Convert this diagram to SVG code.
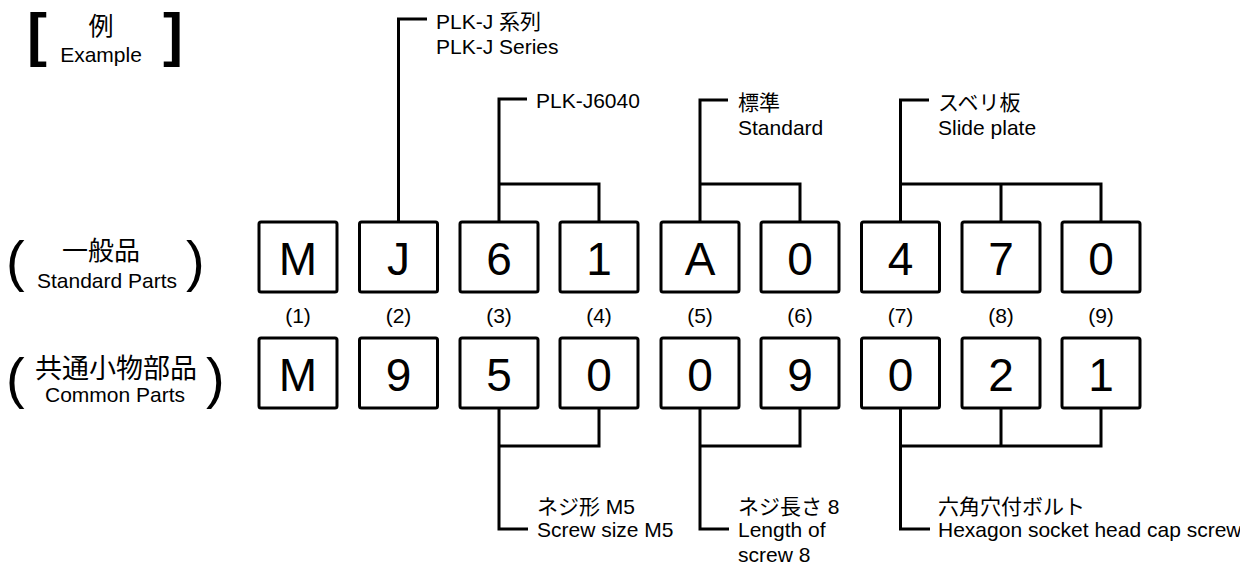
<svg xmlns="http://www.w3.org/2000/svg" width="1240" height="565" viewBox="0 0 1240 565">
<style>
.t{font-family:"Liberation Sans","Noto Sans CJK JP",sans-serif;font-size:21px;fill:#000}
.j{font-family:"Liberation Sans","Noto Sans CJK JP",sans-serif;fill:#000}
.d{font-family:"Liberation Sans",sans-serif;font-size:46px;fill:#000;text-anchor:middle}
.n{font-family:"Liberation Sans",sans-serif;font-size:21px;fill:#000;text-anchor:middle}
.m{text-anchor:middle}
.b{fill:#fff;stroke:#000;stroke-width:3}
.c{fill:none;stroke:#000;stroke-width:3}
</style>
<rect width="1240" height="565" fill="#fff"/>
<g id="title">
<text class="j" x="27" y="55" font-size="60" font-weight="bold">[</text>
<text class="j" x="163" y="55" font-size="60" font-weight="bold">]</text>
<text class="j m" x="101" y="35" font-size="25">例</text>
<text class="t m" x="101" y="62">Example</text>
</g>
<g id="row-label-standard">
<text class="j" x="6" y="280" font-size="56">(</text>
<text class="j" x="186" y="280" font-size="56">)</text>
<text class="j m" x="101" y="260" font-size="26">一般品</text>
<text class="t m" x="107" y="288">Standard Parts</text>
</g>
<g id="row-label-common">
<text class="j" x="6" y="397" font-size="56">(</text>
<text class="j" x="206" y="397" font-size="56">)</text>
<text class="j m" x="116" y="378" font-size="27">共通小物部品</text>
<text class="t m" x="115" y="402">Common Parts</text>
</g>
<g id="standard-row">
<g id="s1"><rect class="b" x="259" y="222" width="78" height="70" rx="2"/><text class="d" x="298" y="275">M</text></g>
<g id="s2"><rect class="b" x="359.5" y="222" width="78" height="70" rx="2"/><text class="d" x="398.5" y="275">J</text></g>
<g id="s3"><rect class="b" x="460" y="222" width="78" height="70" rx="2"/><text class="d" x="499" y="275">6</text></g>
<g id="s4"><rect class="b" x="560" y="222" width="78" height="70" rx="2"/><text class="d" x="599" y="275">1</text></g>
<g id="s5"><rect class="b" x="661" y="222" width="78" height="70" rx="2"/><text class="d" x="700" y="275">A</text></g>
<g id="s6"><rect class="b" x="761" y="222" width="78" height="70" rx="2"/><text class="d" x="800" y="275">0</text></g>
<g id="s7"><rect class="b" x="861.5" y="222" width="78" height="70" rx="2"/><text class="d" x="900.5" y="275">4</text></g>
<g id="s8"><rect class="b" x="962" y="222" width="78" height="70" rx="2"/><text class="d" x="1001" y="275">7</text></g>
<g id="s9"><rect class="b" x="1062" y="222" width="78" height="70" rx="2"/><text class="d" x="1101" y="275">0</text></g>
</g>
<g id="indices">
<text class="n" x="298" y="323">(1)</text>
<text class="n" x="398.5" y="323">(2)</text>
<text class="n" x="499" y="323">(3)</text>
<text class="n" x="599" y="323">(4)</text>
<text class="n" x="700" y="323">(5)</text>
<text class="n" x="800" y="323">(6)</text>
<text class="n" x="900.5" y="323">(7)</text>
<text class="n" x="1001" y="323">(8)</text>
<text class="n" x="1101" y="323">(9)</text>
</g>
<g id="common-row">
<g id="c1"><rect class="b" x="259" y="338" width="78" height="70" rx="2"/><text class="d" x="298" y="391">M</text></g>
<g id="c2"><rect class="b" x="359.5" y="338" width="78" height="70" rx="2"/><text class="d" x="398.5" y="391">9</text></g>
<g id="c3"><rect class="b" x="460" y="338" width="78" height="70" rx="2"/><text class="d" x="499" y="391">5</text></g>
<g id="c4"><rect class="b" x="560" y="338" width="78" height="70" rx="2"/><text class="d" x="599" y="391">0</text></g>
<g id="c5"><rect class="b" x="661" y="338" width="78" height="70" rx="2"/><text class="d" x="700" y="391">0</text></g>
<g id="c6"><rect class="b" x="761" y="338" width="78" height="70" rx="2"/><text class="d" x="800" y="391">9</text></g>
<g id="c7"><rect class="b" x="861.5" y="338" width="78" height="70" rx="2"/><text class="d" x="900.5" y="391">0</text></g>
<g id="c8"><rect class="b" x="962" y="338" width="78" height="70" rx="2"/><text class="d" x="1001" y="391">2</text></g>
<g id="c9"><rect class="b" x="1062" y="338" width="78" height="70" rx="2"/><text class="d" x="1101" y="391">1</text></g>
</g>
<g id="connectors">
<path class="c" d="M398.5,222 V19 H427"/>
<path class="c" d="M499,222 V99 H527 M499,184 H599 V222"/>
<path class="c" d="M700,222 V100 H728 M700,184 H800 V222"/>
<path class="c" d="M900.5,222 V100 H929 M900.5,184 H1101 V222 M1001,184 V222"/>
<path class="c" d="M499,408 V529 H528 M499,446 H599 V408"/>
<path class="c" d="M700,408 V529 H729 M700,446 H800 V408"/>
<path class="c" d="M900.5,408 V529 H930 M900.5,446 H1101 V408 M1001,446 V408"/>
</g>
<g id="label-series">
<text class="t" x="436" y="29">PLK-J 系列</text>
<text class="t" x="436" y="54">PLK-J Series</text>
</g>
<g id="label-model">
<text class="t" x="536" y="108">PLK-J6040</text>
</g>
<g id="label-standard">
<text class="t" x="738" y="110">標準</text>
<text class="t" x="738" y="135">Standard</text>
</g>
<g id="label-slide">
<text class="t" x="938" y="110">スベリ板</text>
<text class="t" x="938" y="135">Slide plate</text>
</g>
<g id="label-screw-size">
<text class="t" x="537" y="514">ネジ形 M5</text>
<text class="t" x="537" y="537">Screw size M5</text>
</g>
<g id="label-length">
<text class="t" x="738" y="514">ネジ長さ 8</text>
<text class="t" x="738" y="537">Length of</text>
<text class="t" x="738" y="561.5">screw 8</text>
</g>
<g id="label-bolt">
<text class="t" x="938" y="514">六角穴付ボルト</text>
<text class="t" x="938" y="537" font-size="20">Hexagon socket head cap screw</text>
</g>
</svg>
